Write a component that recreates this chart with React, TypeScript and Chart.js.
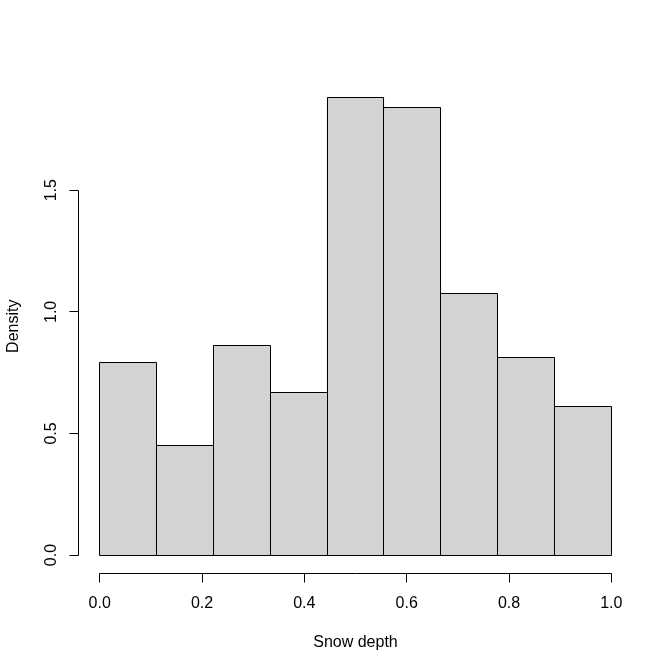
import React, { useEffect, useRef } from "react";
import { Chart, registerables } from "chart.js";

Chart.register(...registerables);

// Histogram of snow depth: bin edges and density per bin
const binEdges = [0, 0.1111, 0.2222, 0.3333, 0.4444, 0.5556, 0.6667, 0.7778, 0.8889, 1.0];
const densities = [0.791, 0.449, 0.861, 0.667, 1.882, 1.841, 1.075, 0.811, 0.612];

const xTicks = [0, 0.2, 0.4, 0.6, 0.8, 1.0];
const yTicks = [0, 0.5, 1.0, 1.5];

const xTitle = "Snow depth";
const yTitle = "Density";

const FONT = '16px "Liberation Sans", Arial, sans-serif';

const snap = (v: number) => Math.floor(v) + 0.5;

// Outlines every bin and draws base-graphics style detached axes
const histAxesPlugin = {
  id: "histAxes",
  afterDatasetsDraw(chart: any) {
    const ctx = chart.ctx as CanvasRenderingContext2D;
    const xs = chart.scales.x;
    const ys = chart.scales.y;
    const area = chart.chartArea;
    ctx.save();
    ctx.strokeStyle = "#000";
    ctx.lineWidth = 1;

    // bin outlines
    const y0 = snap(ys.getPixelForValue(0));
    for (let i = 0; i < densities.length; i++) {
      const l = snap(xs.getPixelForValue(binEdges[i]));
      const r = snap(xs.getPixelForValue(binEdges[i + 1]));
      const t = snap(ys.getPixelForValue(densities[i]));
      ctx.beginPath();
      ctx.rect(l, t, r - l, y0 - t);
      ctx.stroke();
    }

    const tick = 9;
    // x axis
    const ax = snap(area.bottom);
    ctx.beginPath();
    ctx.moveTo(snap(xs.getPixelForValue(xTicks[0])), ax);
    ctx.lineTo(snap(xs.getPixelForValue(xTicks[xTicks.length - 1])), ax);
    for (const v of xTicks) {
      const px = snap(xs.getPixelForValue(v));
      ctx.moveTo(px, ax);
      ctx.lineTo(px, ax + tick);
    }
    ctx.stroke();

    // y axis
    const ay = snap(area.left - 1);
    ctx.beginPath();
    ctx.moveTo(ay, snap(ys.getPixelForValue(yTicks[0])));
    ctx.lineTo(ay, snap(ys.getPixelForValue(yTicks[yTicks.length - 1])));
    for (const v of yTicks) {
      const py = snap(ys.getPixelForValue(v));
      ctx.moveTo(ay, py);
      ctx.lineTo(ay - tick, py);
    }
    ctx.stroke();

    // labels
    ctx.fillStyle = "#000";
    ctx.font = FONT;
    ctx.textAlign = "center";
    ctx.textBaseline = "alphabetic";
    for (const v of xTicks) {
      ctx.fillText(v.toFixed(1), xs.getPixelForValue(v), ax + 34);
    }
    for (const v of yTicks) {
      ctx.save();
      ctx.translate(ay - 23, ys.getPixelForValue(v));
      ctx.rotate(-Math.PI / 2);
      ctx.fillText(v.toFixed(1), 0, 0);
      ctx.restore();
    }
    ctx.fillText(xTitle, (area.left + area.right) / 2, ax + 73);
    ctx.save();
    ctx.translate(ay - 61, (area.top + area.bottom) / 2);
    ctx.rotate(-Math.PI / 2);
    ctx.fillText(yTitle, 0, 0);
    ctx.restore();
    ctx.restore();
  },
};

export default function App() {
  const canvasRef = useRef<HTMLCanvasElement | null>(null);

  useEffect(() => {
    const canvas = canvasRef.current;
    if (!canvas) return;
    const points = densities.map((d, i) => ({ x: (binEdges[i] + binEdges[i + 1]) / 2, y: d }));
    const xMin = binEdges[0];
    const xMax = binEdges[binEdges.length - 1];
    const xPad = (xMax - xMin) * 0.04;
    const yMax = Math.max(...densities);
    const yPad = yMax * 0.04;

    const chart = new Chart(canvas, {
      type: "bar",
      data: {
        datasets: [
          {
            data: points,
            backgroundColor: "#D3D3D3",
            borderWidth: 0,
            barPercentage: 1,
            categoryPercentage: 1,
          },
        ],
      },
      options: {
        animation: false,
        responsive: false,
        devicePixelRatio: 1,
        layout: { padding: { left: 79.2, right: 40.2, top: 79, bottom: 97.6 } },
        plugins: { legend: { display: false }, tooltip: { enabled: false } },
        scales: {
          x: { type: "linear", offset: false, min: xMin - xPad, max: xMax + xPad, display: false },
          y: { type: "linear", min: -yPad, max: yMax + yPad, display: false },
        },
      },
      plugins: [histAxesPlugin],
    });
    return () => chart.destroy();
  }, []);

  return (
    <div style={{ position: "fixed", left: 0, top: 0, width: 672, height: 671, background: "#fff" }}>
      <canvas ref={canvasRef} width={672} height={671} />
    </div>
  );
}
